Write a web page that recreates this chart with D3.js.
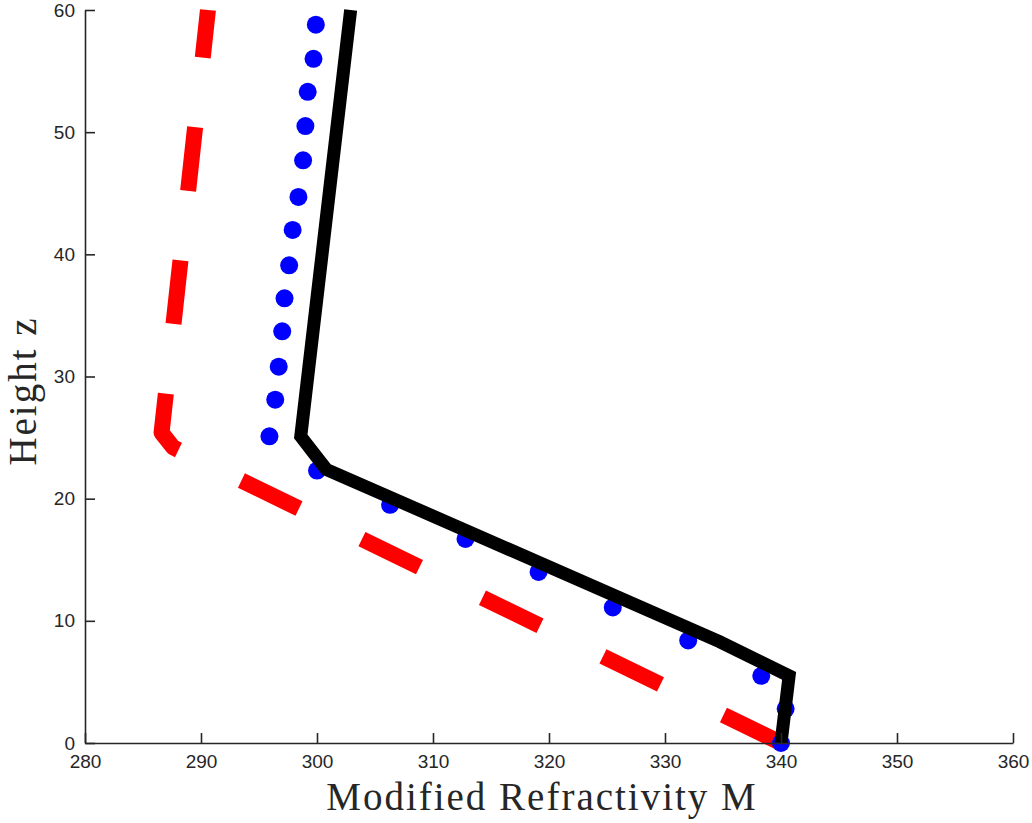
<!DOCTYPE html>
<html>
<head>
<meta charset="utf-8">
<script src="https://cdn.jsdelivr.net/npm/d3@7"></script>
<style>
  body { margin: 0; background: #fff; }
  .tick text { font-family: "Liberation Sans", Arial, sans-serif; font-size: 19px; fill: #262626; }
  .axis-label { font-family: "Liberation Serif", "Times New Roman", serif; font-size: 39px; letter-spacing: 2px; fill: #262626; }
</style>
</head>
<body>
<div id="chart"></div>
<script>
// tick values
const xTicks = [280, 290, 300, 310, 320, 330, 340, 350, 360];
const yTicks = [0, 10, 20, 30, 40, 50, 60];

// red dashed profile
const redM = [340, 287.6, 286.6, 290.6];
const redZ = [0, 24.2, 25.4, 60];

// blue dotted profile (markers)
const blueM = [340.0, 340.4, 338.3, 332.0, 325.5, 319.1, 312.8, 306.3, 300.0, 295.9, 296.4,
               296.7, 297.0, 297.2, 297.6, 297.9, 298.4, 298.8, 299.0, 299.2, 299.7, 299.9];
const blueZ = [0, 2.8, 5.5, 8.4, 11.1, 14.0, 16.7, 19.5, 22.3, 25.1, 28.1,
               30.8, 33.7, 36.4, 39.1, 42.0, 44.7, 47.7, 50.5, 53.3, 56.0, 58.8];

// black solid profile
const blackM = [340.0, 340.7, 334.7, 300.8, 298.6, 302.9];
const blackZ = [0, 5.5, 8.3, 22.4, 25.1, 60];

const width = 1032;
const height = 823;
const margin = { top: 10, right: 19, bottom: 80, left: 85 };

const svg = d3.select("#chart")
  .append("svg")
  .attr("width", width)
  .attr("height", height);

const xScale = d3.scaleLinear()
  .domain([280, 360])
  .range([margin.left, width - margin.right]);

const yScale = d3.scaleLinear()
  .domain([0, 60])
  .range([height - margin.bottom, margin.top]);

const line = d3.line()
  .x(d => xScale(d[0]))
  .y(d => yScale(d[1]));

// red dashed line
svg.append("path")
  .datum(d3.zip(redM, redZ))
  .attr("d", line)
  .attr("fill", "none")
  .attr("stroke", "#ff0000")
  .attr("stroke-width", 16)
  .attr("stroke-dasharray", "64 70")
  .attr("stroke-linejoin", "round");

// blue dots
svg.selectAll(".dot")
  .data(d3.zip(blueM, blueZ))
  .enter()
  .append("circle")
  .attr("class", "dot")
  .attr("cx", d => xScale(d[0]))
  .attr("cy", d => yScale(d[1]))
  .attr("r", 9)
  .attr("fill", "#0000ff");

// black solid line
svg.append("path")
  .datum(d3.zip(blackM, blackZ))
  .attr("d", line)
  .attr("fill", "none")
  .attr("stroke", "#000")
  .attr("stroke-width", 13)
  .attr("stroke-linejoin", "miter");

// axes, ticks pointing inward
const xAxis = d3.axisBottom(xScale).tickValues(xTicks).tickSizeInner(-10).tickSizeOuter(0).tickPadding(11.5);
const gx = svg.append("g")
  .attr("class", "x-axis")
  .attr("transform", `translate(0, ${height - margin.bottom})`)
  .call(xAxis);

const yAxis = d3.axisLeft(yScale).tickValues(yTicks).tickSizeInner(-10).tickSizeOuter(0).tickPadding(10);
const gy = svg.append("g")
  .attr("class", "y-axis")
  .attr("transform", `translate(${margin.left}, 0)`)
  .call(yAxis);

[gx, gy].forEach(g => {
  g.select(".domain").attr("stroke", "#262626").attr("stroke-width", 1.6);
  g.selectAll(".tick line").attr("stroke", "#262626").attr("stroke-width", 1.6);
});

// axis labels
svg.append("text")
  .attr("class", "axis-label")
  .attr("x", 542)
  .attr("y", 810)
  .attr("text-anchor", "middle")
  .text("Modified Refractivity M");

svg.append("text")
  .attr("class", "axis-label")
  .attr("transform", "translate(36, 391) rotate(-90)")
  .attr("text-anchor", "middle")
  .style("font-size", "39px")
  .text("Height z");
</script>
</body>
</html>
